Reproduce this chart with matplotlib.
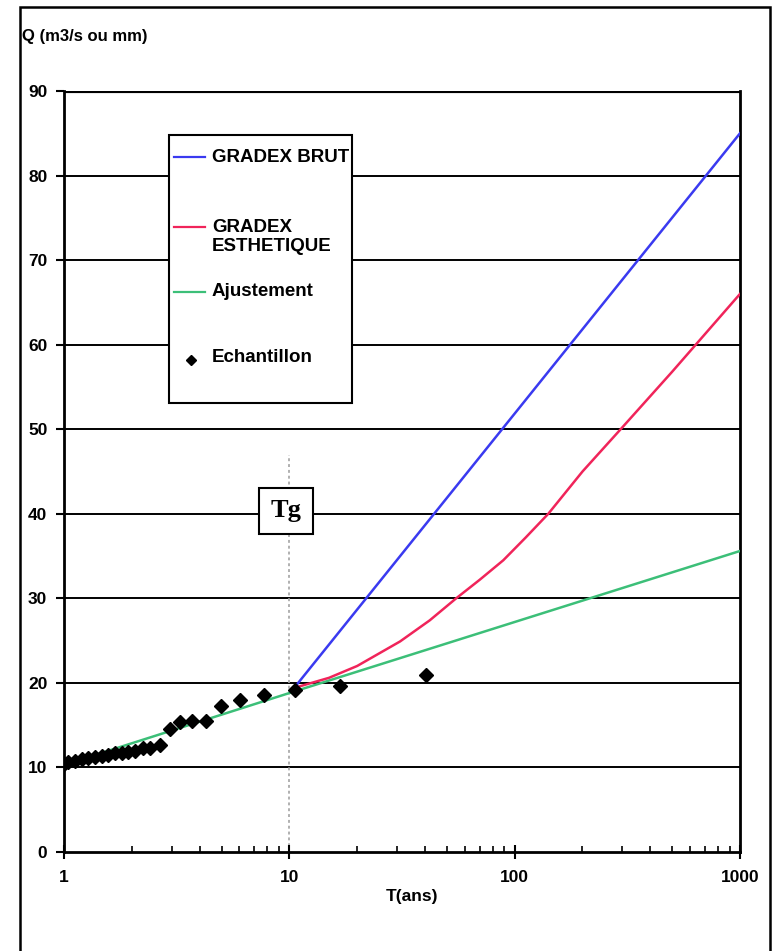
import matplotlib
matplotlib.use('Agg')
import matplotlib.pyplot as plt
from matplotlib.patches import Rectangle
from matplotlib.lines import Line2D
from matplotlib.ticker import LogLocator, NullFormatter, FixedLocator

plt.rcParams['font.family'] = ['Liberation Sans', 'DejaVu Sans']

# sample (return period in years, discharge)
sample_T = [1.0, 1.045, 1.12, 1.20, 1.28, 1.37, 1.47, 1.57, 1.68, 1.80, 1.93,
            2.07, 2.25, 2.41, 2.67, 2.95, 3.27, 3.69, 4.26, 4.98, 6.04, 7.72,
            10.6, 16.8, 40.4]
sample_Q = [10.4, 10.6, 10.8, 10.96, 11.15, 11.27, 11.4, 11.5, 11.65, 11.7, 11.85,
            11.9, 12.3, 12.3, 12.6, 14.6, 15.4, 15.5, 15.5, 17.3, 18.0, 18.6,
            19.2, 19.6, 20.9]

# fitted line
fit_T = [1, 10, 100, 1000]
fit_Q = [10.3, 18.8, 27.2, 35.6]

# raw gradex
brut_T = [10.5, 1000]
brut_Q = [19.4, 85.0]

# "aesthetic" gradex
esth_T = [10.5, 15, 20, 31, 42, 55, 70, 89, 112, 141, 200, 300, 500, 1000]
esth_Q = [19.4, 20.6, 22.0, 24.9, 27.4, 30.0, 32.2, 34.5, 37.2, 40.0, 45.0, 50.2, 56.8, 66.0]

T_gradex = 10
y_ticks = [0, 10, 20, 30, 40, 50, 60, 70, 80, 90]
x_ticks = [1, 10, 100, 1000]

BLUE = '#3a3af0'
RED = '#f0245a'
GREEN = '#3cbf78'

W, H = 775, 951
fig = plt.figure(figsize=(W / 100, H / 100), dpi=100)
ax = fig.add_axes([64 / W, 1 - 852 / H, (740 - 64) / W, (852 - 91) / H])


def fx(px):
    return px / W


def fy(py):
    return 1 - py / H


# horizontal grid
for q in y_ticks[1:]:
    ax.axhline(q, color='black', lw=3 if q == 90 else 1.4, zorder=1)

# Tg vertical
ax.plot([T_gradex, T_gradex], [0, 47], color='#b0b0b0', lw=1.4,
        ls=(0, (1.5, 1.5)), zorder=1)

ax.plot(fit_T, fit_Q, color=GREEN, lw=1.8, zorder=3)
ax.plot(esth_T, esth_Q, color=RED, lw=1.8, zorder=3)
ax.plot(brut_T, brut_Q, color=BLUE, lw=1.8, zorder=3)
ax.plot(sample_T, sample_Q, ls='none', marker='D', color='black',
        markersize=7, zorder=4)

ax.set_xscale('log')
ax.set_xlim(1, 1000)
ax.set_ylim(0, 90)
ax.xaxis.set_major_locator(FixedLocator(x_ticks))
ax.set_xticklabels([str(t) for t in x_ticks])
ax.xaxis.set_minor_locator(LogLocator(base=10, subs=range(2, 10)))
ax.xaxis.set_minor_formatter(NullFormatter())
ax.set_yticks(y_ticks)

for s in ax.spines.values():
    s.set_linewidth(2)
ax.spines['top'].set_visible(False)

ax.tick_params(axis='x', which='major', direction='inout', length=10, width=1.5,
               labelsize=12.5, pad=8)
ax.tick_params(axis='x', which='minor', direction='in', length=4, width=1.2)
ax.tick_params(axis='y', direction='out', length=6, width=1.5, labelsize=12.5, pad=6)
for lab in ax.get_xticklabels() + ax.get_yticklabels():
    lab.set_fontweight('bold')

fig.text(fx(412), fy(897), 'T(ans)', ha='center', va='center',
         fontsize=12.5, fontweight='bold')
fig.text(fx(22), fy(37), 'Q (m3/s ou mm)', ha='left', va='center',
         fontsize=12, fontweight='bold')

# Tg box
fig.text(fx(286), fy(511), 'Tg', ha='center', va='center', fontsize=19,
         fontweight='bold', family=['Liberation Serif', 'DejaVu Serif'],
         zorder=6,
         bbox=dict(boxstyle='square,pad=0.45', fc='white', ec='black', lw=1.5))

# legend box drawn by hand
fig.patches.append(Rectangle((fx(169), fy(403)), fx(352) - fx(169), fy(135) - fy(403),
                             transform=fig.transFigure, fc='white', ec='black',
                             lw=1.5, zorder=5))
entries = [(BLUE, 157, 'GRADEX BRUT', 157),
           (RED, 227, 'GRADEX\nESTHETIQUE', 237),
           (GREEN, 292, 'Ajustement', 292)]
for col, ly, label, ty in entries:
    fig.lines.append(Line2D([fx(174), fx(205)], [fy(ly), fy(ly)],
                            transform=fig.transFigure, color=col, lw=1.6, zorder=6))
    fig.text(fx(212), fy(ty), label, ha='left', va='center', fontsize=13.5,
             fontweight='bold', linespacing=1.15, zorder=6)
fig.lines.append(Line2D([fx(191)], [fy(360)], transform=fig.transFigure, ls='none',
                        marker='D', color='black', markersize=5, zorder=6))
fig.text(fx(212), fy(358), 'Echantillon', ha='left', va='center', fontsize=13.5,
         fontweight='bold', zorder=6)

# outer frame
fig.patches.append(Rectangle((fx(20), -0.05), fx(770) - fx(20), fy(7) + 0.05,
                             transform=fig.transFigure, fill=False, ec='black',
                             lw=1.8, zorder=7))

fig.savefig('out.png', dpi=100)
